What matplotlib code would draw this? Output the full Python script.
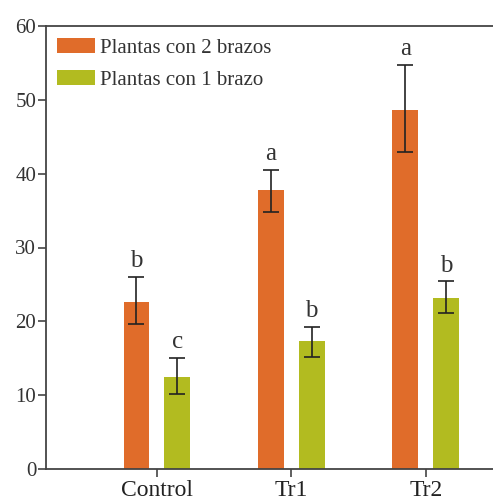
import numpy as np
import matplotlib
matplotlib.use('Agg')
import matplotlib.pyplot as plt

plt.rcParams['font.family'] = ['Liberation Serif', 'DejaVu Serif']

# datos
grupos = ['Control', 'Tr1', 'Tr2']
dos_brazos = [22.6, 37.8, 48.6]
dos_err_inf = [3.0, 3.0, 5.7]
dos_err_sup = [3.4, 2.7, 6.1]
letras_dos = ['b', 'a', 'a']

un_brazo = [12.4, 17.3, 23.2]
un_err_inf = [2.3, 2.1, 2.1]
un_err_sup = [2.6, 1.9, 2.2]
letras_uno = ['c', 'b', 'b']

naranja = '#E06C2A'
verde = '#B2BB20'

fig = plt.figure(figsize=(4.93, 5.01), dpi=100)
ax = fig.add_axes([46/493, 32/501, 447/493, 443/501])

x = np.arange(len(grupos))
ancho = 0.193
desp = 0.152

err_kw = dict(ecolor='#222222', elinewidth=1.2, capsize=5.5, capthick=1.2)
ax.bar(x - desp, dos_brazos, ancho, color=naranja, label='Plantas con 2 brazos',
       yerr=[dos_err_inf, dos_err_sup], error_kw=err_kw, zorder=2)
ax.bar(x + desp, un_brazo, ancho, color=verde, label='Plantas con 1 brazo',
       yerr=[un_err_inf, un_err_sup], error_kw=err_kw, zorder=2)

# letras de significancia
for i in range(len(grupos)):
    ax.annotate(letras_dos[i], (x[i] - desp, dos_brazos[i] + dos_err_sup[i]),
                xytext=(0, 3.5), textcoords='offset points', ha='center', va='bottom',
                fontsize=18, color='#333333')
    ax.annotate(letras_uno[i], (x[i] + desp, un_brazo[i] + un_err_sup[i]),
                xytext=(0, 3.5), textcoords='offset points', ha='center', va='bottom',
                fontsize=18, color='#333333')

ax.set_xlim(-0.825, 2.5)
ax.set_ylim(0, 60)
ax.set_yticks(range(0, 61, 10))
ax.set_xticks(x)
ax.set_xticklabels(grupos)

for s in ['left', 'bottom', 'top']:
    ax.spines[s].set_color('#444444')
    ax.spines[s].set_linewidth(1.3)
ax.spines['right'].set_visible(False)

ax.tick_params(axis='y', labelsize=15, length=6, width=1.2, color='#444444',
               labelcolor='#333333', pad=1)
ax.tick_params(axis='x', labelsize=17, length=6, width=1.2, color='#444444',
               labelcolor='#222222', pad=2)

ax.legend(loc='upper left', frameon=False, fontsize=15, handlelength=1.83,
          handleheight=0.72, handletextpad=0.25, labelspacing=0.58,
          bbox_to_anchor=(-0.004, 1.0), borderaxespad=0.2, labelcolor='#333333')

fig.savefig('out.png', dpi=100)
